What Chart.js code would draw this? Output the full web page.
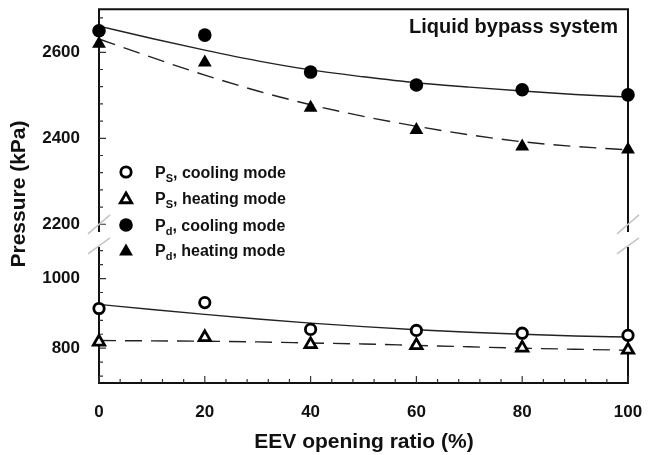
<!DOCTYPE html>
<html>
<head>
<meta charset="utf-8">
<script src="https://cdn.jsdelivr.net/npm/chart.js@4.4.1/dist/chart.umd.min.js"></script>
<style>
  html, body { margin: 0; padding: 0; background: #fff; }
  canvas { display: block; }
</style>
</head>
<body>
<canvas id="pressureChart" width="649" height="455"></canvas>
<script>
// Measured points (EEV opening ratio vs pressure, kPa)
const openingRatio = [0, 20, 40, 60, 80, 100];
const psCooling = [914, 931, 854, 851, 843, 837];
const psHeating = [818, 831, 811, 808, 801, 795];
const pdCooling = [2650, 2640, 2554, 2524, 2513, 2501];
const pdHeating = [2620, 2576, 2471, 2419, 2381, 2374];

// Fitted curves, every 10 %
const fitRatio = [0, 10, 20, 30, 40, 50, 60, 70, 80, 90, 100];
const psCoolingFit = [926, 911, 897, 884, 872, 862, 853, 846, 840, 835, 832];
const psHeatingFit = [822, 821, 820, 818, 815, 812, 808, 804, 800, 797, 794];
const pdCoolingFit = [2661, 2632, 2605, 2580, 2559, 2543, 2529, 2519, 2510, 2502, 2496];
const pdHeatingFit = [2631, 2588, 2547, 2510, 2478, 2451, 2428, 2408, 2392, 2381, 2373];

// Tick labels
const xTickLabels = [0, 20, 40, 60, 80, 100];
const yUpperTickLabels = [2200, 2400, 2600];
const yLowerTickLabels = [800, 1000];

const legendRows = [
    { sub: 'S', text: ', cooling mode', style: 'circle', filled: false },
    { sub: 'S', text: ', heating mode', style: 'triangle', filled: false },
    { sub: 'd', text: ', cooling mode', style: 'circle', filled: true },
    { sub: 'd', text: ', heating mode', style: 'triangle', filled: true }
];

const FONT = "'Liberation Sans', Arial, Helvetica, sans-serif";

function toPoints(xs, ys) {
    return xs.map((x, i) => ({ x: x, y: ys[i] }));
}

function markerRadius(style, filled) {
    if (style === 'triangle') return filled ? 8 : 6.5;
    return filled ? 6.8 : 5.2;
}

function markerSet(label, ys, axis, style, filled) {
    return {
        label: label,
        data: toPoints(openingRatio, ys),
        yAxisID: axis,
        showLine: false,
        pointStyle: style,
        pointRadius: markerRadius(style, filled),
        pointBorderWidth: filled ? 0 : 2.8,
        pointBackgroundColor: filled ? '#000' : '#fff',
        pointBorderColor: '#000',
        clip: false
    };
}

function fitSet(ys, axis, dashed) {
    return {
        data: toPoints(fitRatio, ys),
        yAxisID: axis,
        showLine: true,
        pointRadius: 0,
        borderColor: '#222',
        borderWidth: 1.4,
        borderDash: dashed ? [17, 9] : [],
        cubicInterpolationMode: 'monotone',
        clip: false
    };
}

// Frame with a broken y axis, inward ticks and break marks
const breakFrame = {
    id: 'breakFrame',
    beforeDatasetsDraw(chart) {
        const { ctx, chartArea: a, scales } = chart;
        const gapTop = scales.yUpper.bottom - 7;
        const gapBot = scales.yLower.top + 8;
        ctx.save();
        ctx.strokeStyle = '#111';
        ctx.lineWidth = 2;
        ctx.beginPath();
        ctx.moveTo(a.left, gapTop);
        ctx.lineTo(a.left, a.top);
        ctx.lineTo(a.right, a.top);
        ctx.lineTo(a.right, gapTop);
        ctx.moveTo(a.left, gapBot);
        ctx.lineTo(a.left, a.bottom);
        ctx.lineTo(a.right, a.bottom);
        ctx.lineTo(a.right, gapBot);
        ctx.stroke();

        // inward ticks
        ctx.lineWidth = 1.2;
        ctx.strokeStyle = '#333';
        ctx.beginPath();
        scales.x.ticks.forEach(t => {
            const px = scales.x.getPixelForValue(t.value);
            const len = xTickLabels.includes(t.value) ? 7 : 4;
            ctx.moveTo(px, a.bottom);
            ctx.lineTo(px, a.bottom - len);
        });
        [['yUpper', yUpperTickLabels], ['yLower', yLowerTickLabels]].forEach(([id, majors]) => {
            const s = scales[id];
            s.ticks.forEach(t => {
                const py = s.getPixelForValue(t.value);
                const len = majors.includes(t.value) ? 7 : 4;
                ctx.moveTo(a.left, py);
                ctx.lineTo(a.left + len, py);
            });
        });
        ctx.stroke();

        // break marks
        ctx.strokeStyle = '#c4c4c4';
        ctx.lineWidth = 1.5;
        ctx.beginPath();
        [a.left, a.right].forEach(x0 => {
            ctx.moveTo(x0 - 11, gapTop + 2);
            ctx.lineTo(x0 + 11, gapTop - 17);
            ctx.moveTo(x0 - 11, gapBot + 7);
            ctx.lineTo(x0 + 11, gapBot - 9);
        });
        ctx.stroke();
        ctx.restore();
    },
    afterDraw(chart) {
        const { ctx } = chart;
        ctx.save();
        ctx.fillStyle = '#111';

        // legend
        const mx = 126, tx = 155, rowY = [172, 198, 225, 250];
        legendRows.forEach((row, i) => {
            const y = rowY[i];
            const tri = row.style === 'triangle';
            ctx.fillStyle = row.filled ? '#000' : '#fff';
            ctx.strokeStyle = '#000';
            ctx.lineWidth = row.filled ? 0 : 2.8;
            Chart.helpers.drawPoint(ctx, {
                pointStyle: row.style,
                radius: markerRadius(row.style, row.filled),
                borderWidth: row.filled ? 0 : 2.8,
                rotation: 0
            }, mx, tri ? y + 1.5 : y);
            ctx.fillStyle = '#111';
            ctx.textBaseline = 'alphabetic';
            ctx.textAlign = 'left';
            ctx.font = 'bold 16px ' + FONT;
            ctx.fillText('P', tx, y + 6);
            let x = tx + ctx.measureText('P').width;
            ctx.font = 'bold 11px ' + FONT;
            ctx.fillText(row.sub, x, y + 10);
            x += ctx.measureText(row.sub).width;
            ctx.font = 'bold 16px ' + FONT;
            ctx.fillText(row.text, x, y + 6);
        });

        // system title
        ctx.font = 'bold 20px ' + FONT;
        ctx.textAlign = 'right';
        ctx.fillText('Liquid bypass system', 618, 33);

        // axis titles
        ctx.font = 'bold 21px ' + FONT;
        ctx.textAlign = 'center';
        ctx.fillText('EEV opening ratio (%)', 364, 448);
        ctx.translate(25, 194);
        ctx.rotate(-Math.PI / 2);
        ctx.fillText('Pressure (kPa)', 0, 0);
        ctx.restore();
    }
};

const tickFont = { family: FONT, size: 17, weight: 'bold' };

function fitY(s) {
    s.width = 99;
    s.paddingTop = 0;
    s.paddingBottom = 0;
}

new Chart(document.getElementById('pressureChart').getContext('2d'), {
    type: 'scatter',
    data: {
        datasets: [
            markerSet('Ps, cooling mode', psCooling, 'yLower', 'circle', false),
            markerSet('Ps, heating mode', psHeating, 'yLower', 'triangle', false),
            markerSet('Pd, cooling mode', pdCooling, 'yUpper', 'circle', true),
            markerSet('Pd, heating mode', pdHeating, 'yUpper', 'triangle', true),
            fitSet(psCoolingFit, 'yLower', false),
            fitSet(psHeatingFit, 'yLower', true),
            fitSet(pdCoolingFit, 'yUpper', false),
            fitSet(pdHeatingFit, 'yUpper', true)
        ]
    },
    options: {
        responsive: false,
        animation: false,
        layout: { padding: { top: 7, right: 21, left: 0, bottom: 0 } },
        plugins: {
            legend: { display: false },
            tooltip: { enabled: false }
        },
        scales: {
            x: {
                type: 'linear',
                min: 0,
                max: 100,
                grid: { display: false },
                border: { display: false },
                ticks: {
                    stepSize: 4,
                    autoSkip: false,
                    maxRotation: 0,
                    padding: 11,
                    color: '#111',
                    font: tickFont,
                    callback: v => xTickLabels.includes(v) ? v : ''
                },
                afterFit: s => {
                    s.height = 72;
                    s.paddingLeft = 0;
                    s.paddingRight = 0;
                }
            },
            yLower: {
                type: 'linear',
                position: 'left',
                stack: 'pressure',
                stackWeight: 145,
                min: 700,
                max: 1114,
                grid: { display: false },
                border: { display: false },
                ticks: {
                    stepSize: 40,
                    includeBounds: false,
                    autoSkip: false,
                    padding: 11,
                    color: '#111',
                    font: tickFont,
                    callback: v => yLowerTickLabels.includes(v) ? v : ''
                },
                afterFit: fitY
            },
            yUpper: {
                type: 'linear',
                position: 'left',
                stack: 'pressure',
                stackWeight: 231,
                min: 2166,
                max: 2700,
                grid: { display: false },
                border: { display: false },
                ticks: {
                    stepSize: 40,
                    includeBounds: false,
                    autoSkip: false,
                    padding: 11,
                    color: '#111',
                    font: tickFont,
                    callback: v => yUpperTickLabels.includes(v) ? v : ''
                },
                afterFit: fitY
            }
        }
    },
    plugins: [breakFrame]
});
</script>
</body>
</html>
